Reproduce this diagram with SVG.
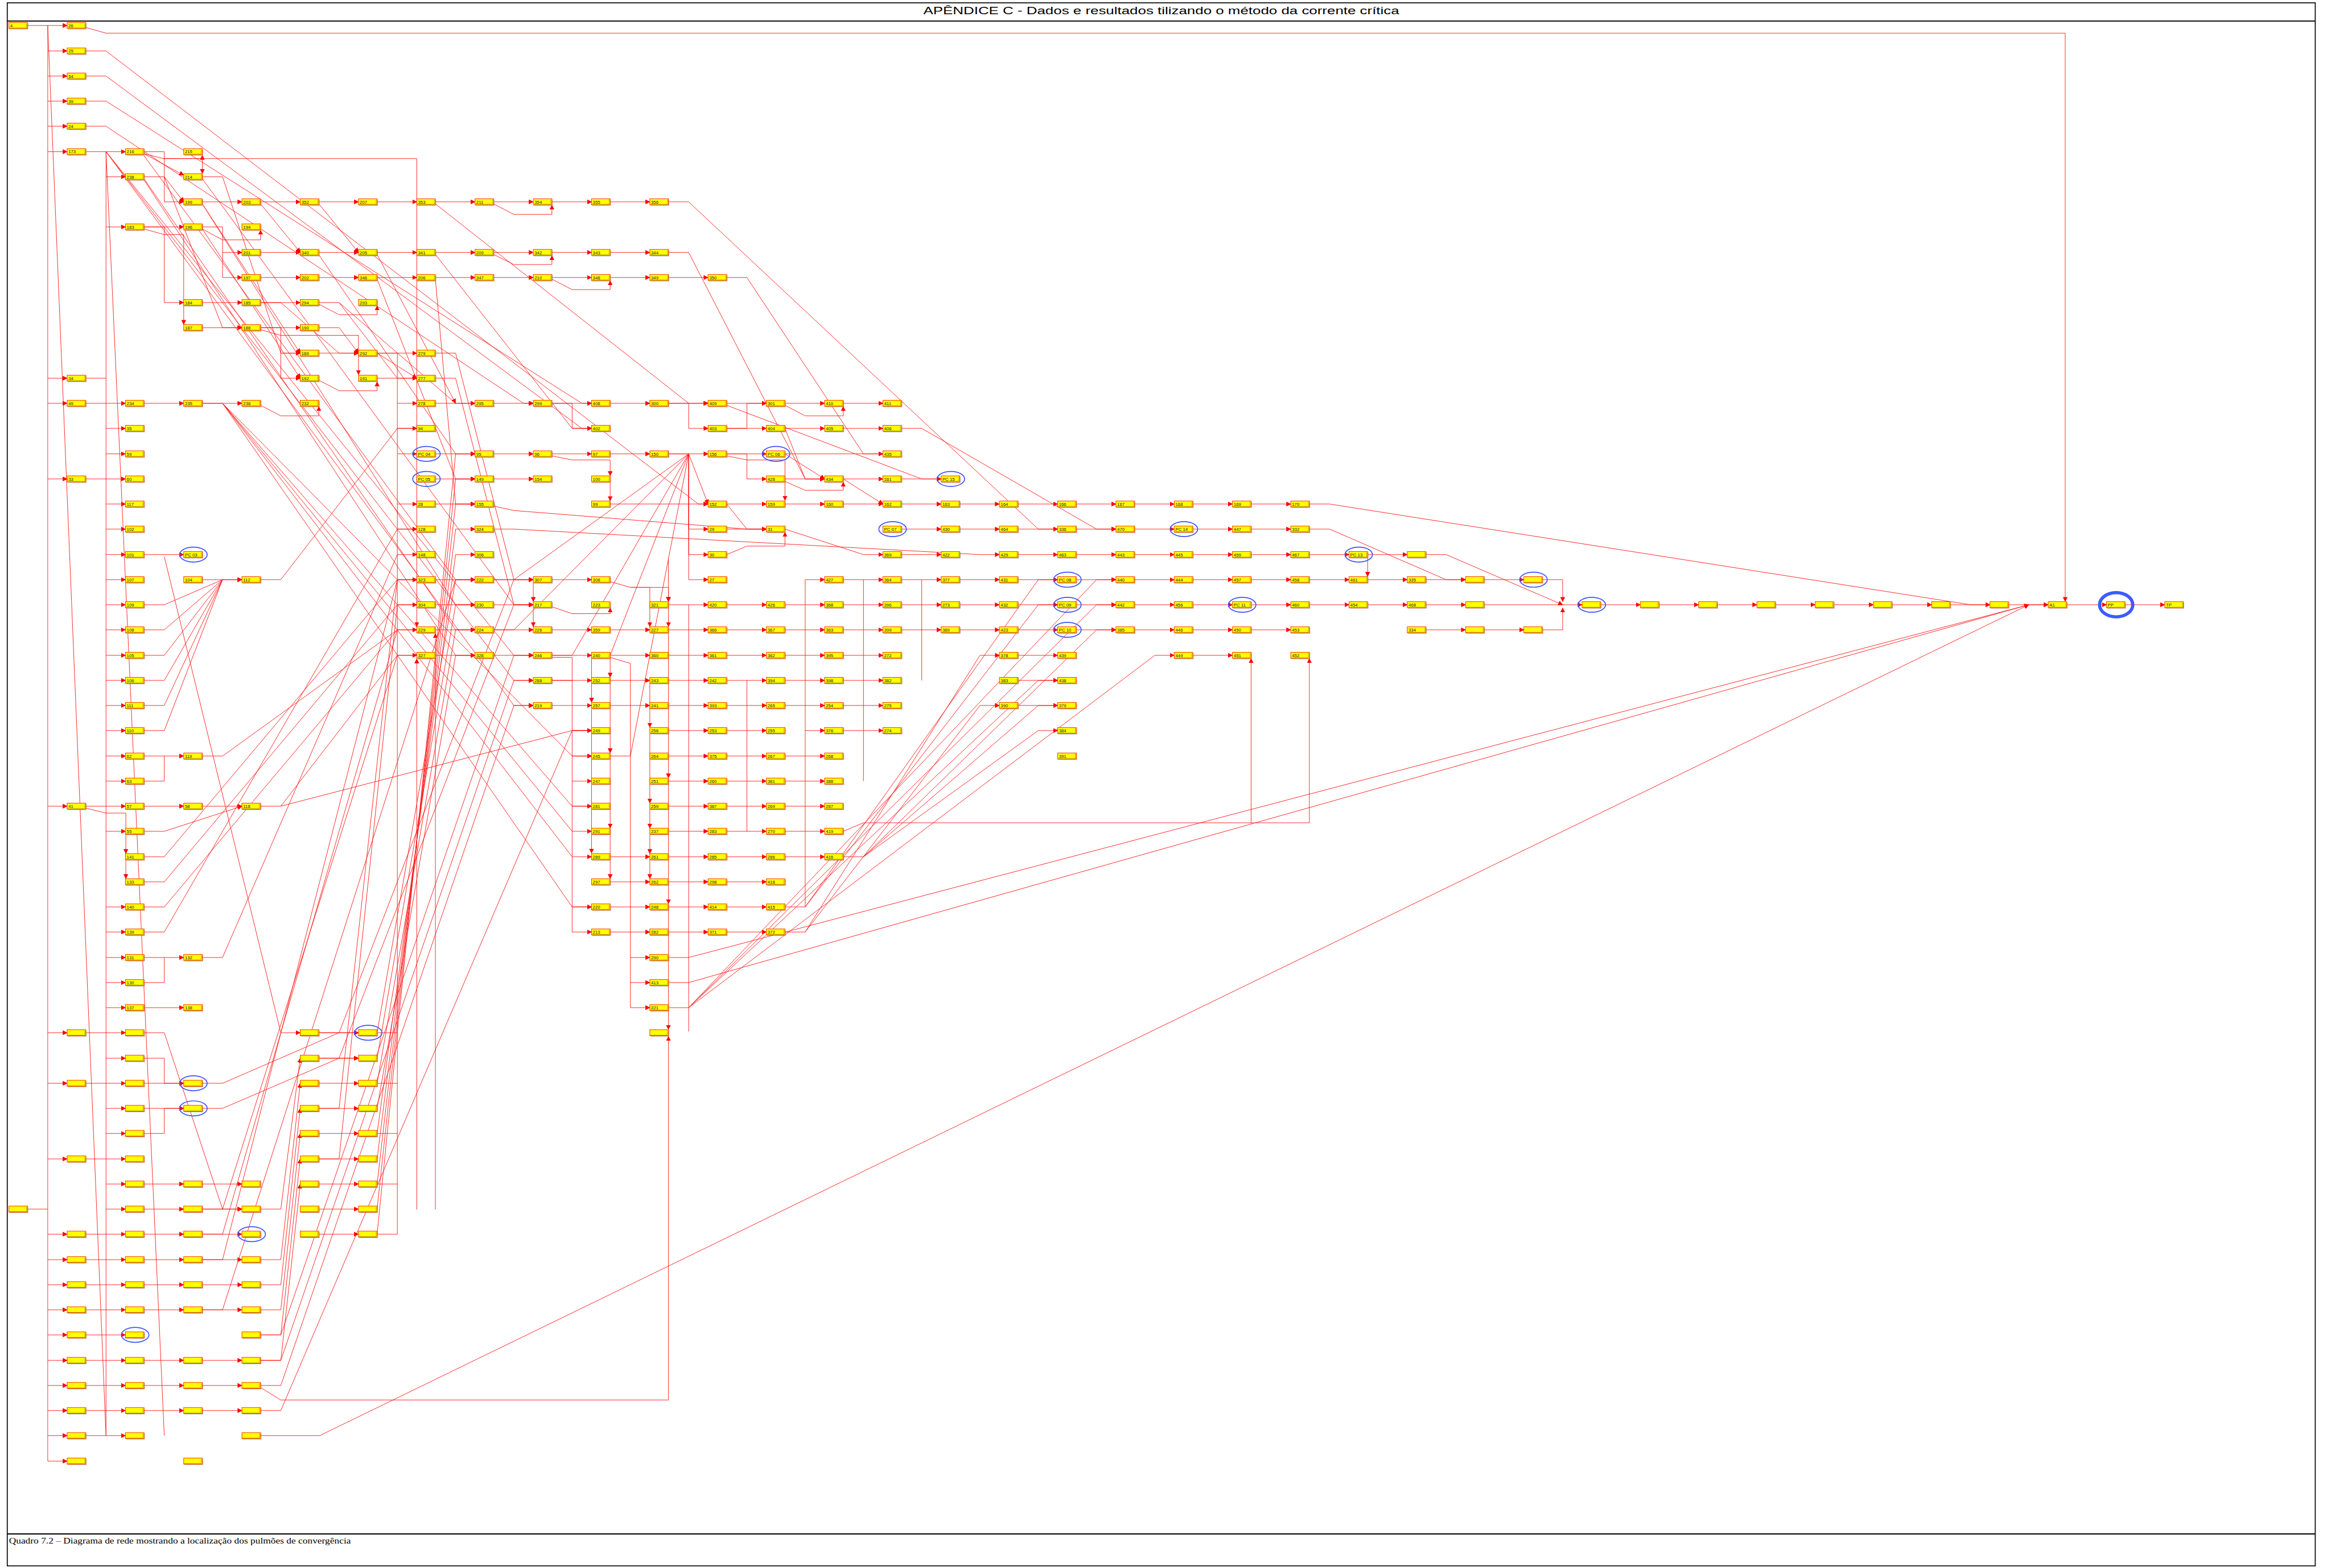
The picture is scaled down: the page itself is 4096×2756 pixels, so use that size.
<svg xmlns="http://www.w3.org/2000/svg" xmlns:xlink="http://www.w3.org/1999/xlink" width="4096" height="2756" viewBox="0 0 4096 2756">
<style>
.e path{fill:none;stroke:#ff1a1a;stroke-width:1.3;marker-end:url(#a)}
.e path.n{marker-end:none}
.nd text{font-family:"Liberation Sans",Arial,sans-serif;font-size:11px;fill:#222}
.pc{fill:none;stroke:#3a55ff;stroke-width:2.4}
</style>
<defs>
<marker id="a" viewBox="0 0 12 12" refX="11" refY="6" markerWidth="12" markerHeight="12" markerUnits="userSpaceOnUse" orient="auto"><path d="M0,0L12,6L0,12z" fill="#ff0000"/></marker>
<g id="b"><rect x="2" y="-5.5" width="46" height="15" fill="#a89878" opacity="0.7"/><rect x="0" y="-7.5" width="46" height="15" fill="#ffff00" stroke="#ff4400" stroke-width="1.5"/><path d="M43.5,-6V6H1" fill="none" stroke="#8c8a00" stroke-width="1"/></g>
</defs>
<rect width="4096" height="2756" fill="#fff"/>
<g transform="scale(0.711)">
<g id="frame" fill="none" stroke="#111">
<rect x="18" y="7" width="5704" height="3864" stroke-width="2.5"/>
<path d="M18,52H5722M18,3792H5722" stroke-width="3"/>
</g>
<text x="2870" y="35" text-anchor="middle" font-family="Liberation Sans,Arial,sans-serif" font-size="25" textLength="1176" lengthAdjust="spacingAndGlyphs" fill="#000">APÊNDICE C - Dados e resultados tilizando o método da corrente crítica</text>
<text x="22" y="3816" font-family="Liberation Serif,Times New Roman,serif" font-size="20" textLength="845" lengthAdjust="spacingAndGlyphs" fill="#000">Quadro 7.2 – Diagrama de rede mostrando a localização dos pulmões de convergência</text>
<g id="connectors" class="e">
<path class="n" d="M68,63H118V3612M68,2989H118"/>
<path class="n" d="M118,63L262,3549M262,375L406,3549"/>
<path d="M118,63H166"/><path d="M118,126H166"/><path d="M118,188H166"/><path d="M118,250H166"/><path d="M118,312H166"/><path d="M118,375H166"/><path d="M118,935H166"/><path d="M118,997H166"/><path d="M118,1184H166"/><path d="M118,1993H166"/>
<path d="M118,2553H166"/><path d="M118,2678H166"/><path d="M118,2865H166"/><path d="M118,3051H166"/><path d="M118,3114H166"/><path d="M118,3176H166"/><path d="M118,3238H166"/><path d="M118,3300H166"/><path d="M118,3363H166"/><path d="M118,3425H166"/><path d="M118,3487H166"/><path d="M118,3549H166"/><path d="M118,3612H166"/>
<path class="n" d="M212,375H262V3549"/>
<path class="n" d="M212,935H262M212,997H262M212,1184H262M212,1993H262M212,2553H262M212,2678H262M212,2865H262M212,3051H262M212,3114H262M212,3176H262M212,3238H262M212,3300H262M212,3363H262M212,3425H262M212,3487H262M212,3549H262"/>
<path d="M262,375H310"/><path d="M262,437H310"/><path d="M262,561H310"/><path d="M262,997H310"/><path d="M262,1059H310"/><path d="M262,1122H310"/><path d="M262,1184H310"/><path d="M262,1246H310"/><path d="M262,1308H310"/><path d="M262,1371H310"/><path d="M262,1433H310"/><path d="M262,1495H310"/><path d="M262,1557H310"/><path d="M262,1620H310"/><path d="M262,1682H310"/><path d="M262,1744H310"/><path d="M262,1806H310"/><path d="M262,1869H310"/><path d="M262,1931H310"/><path d="M262,1993H310"/><path d="M262,2055H310"/><path d="M262,2242H310"/><path d="M262,2304H310"/><path d="M262,2367H310"/><path d="M262,2429H310"/><path d="M262,2491H310"/>
<path d="M262,2553H310"/><path d="M262,2616H310"/><path d="M262,2678H310"/><path d="M262,2740H310"/><path d="M262,2802H310"/><path d="M262,2865H310"/><path d="M262,2927H310"/><path d="M262,2989H310"/><path d="M262,3051H310"/><path d="M262,3114H310"/><path d="M262,3176H310"/><path d="M262,3238H310"/><path d="M262,3300H310"/><path d="M262,3363H310"/><path d="M262,3425H310"/><path d="M262,3487H310"/><path d="M262,3549H310"/>
<path d="M500,499H598"/><path d="M644,499H742"/><path d="M788,499H886"/><path d="M932,499H1030"/><path d="M1076,499H1174"/><path d="M1220,499H1318"/><path d="M1364,499H1462"/><path d="M1508,499H1606"/>
<path d="M356,561H454"/>
<path d="M644,624H742"/><path d="M788,624H886"/><path d="M932,624H1030"/><path d="M1076,624H1174"/><path d="M1220,624H1318"/><path d="M1364,624H1462"/><path d="M1508,624H1606"/>
<path d="M644,686H742"/><path d="M788,686H886"/><path d="M932,686H1030"/><path d="M1076,686H1174"/><path d="M1220,686H1318"/><path d="M1364,686H1462"/><path d="M1508,686H1606"/><path d="M1652,686H1750"/>
<path d="M500,748H598"/><path d="M644,748H742"/>
<path d="M500,810H598"/><path d="M644,810H742"/>
<path d="M788,873H886"/><path d="M932,873H1030"/>
<path d="M932,935H1030"/>
<path d="M356,997H454"/><path d="M500,997H598"/><path d="M1076,997H1174"/><path d="M1220,997H1318"/><path d="M1364,997H1462"/><path d="M1508,997H1606"/><path d="M1652,997H1750"/><path d="M1796,997H1894"/><path d="M1940,997H2038"/><path d="M2084,997H2182"/>
<path d="M1796,1059H1894"/><path d="M1940,1059H2038"/><path d="M2084,1059H2182"/>
<path d="M1076,1122H1174"/><path d="M1220,1122H1318"/><path d="M1364,1122H1462"/><path d="M1508,1122H1606"/><path d="M1652,1122H1750"/><path d="M1796,1122H1894"/><path d="M1940,1122H2182"/>
<path d="M1076,1184H1174"/><path d="M1220,1184H1318"/><path d="M1940,1184H2038"/><path d="M2084,1184H2182"/><path d="M2228,1184H2326"/>
<path d="M1076,1246H1174"/><path d="M1796,1246H1894"/><path d="M1940,1246H2038"/><path d="M2084,1246H2182"/><path d="M2228,1246H2326"/><path d="M2372,1246H2470"/><path d="M2516,1246H2614"/><path d="M2660,1246H2758"/><path d="M2804,1246H2902"/><path d="M2948,1246H3046"/><path d="M3092,1246H3190"/>
<path d="M1796,1308H1894"/><path d="M2228,1308H2326"/><path d="M2372,1308H2470"/><path d="M2516,1308H2614"/><path d="M2660,1308H2758"/><path d="M2804,1308H2902"/><path d="M2948,1308H3046"/><path d="M3092,1308H3190"/>
<path d="M356,1371H454"/><path d="M2228,1371H2326"/><path d="M2516,1371H2614"/><path d="M2660,1371H2758"/><path d="M2804,1371H2902"/><path d="M2948,1371H3046"/><path d="M3092,1371H3190"/><path d="M3236,1371H3334"/><path d="M3380,1371H3478"/>
<path d="M500,1433H598"/><path d="M1076,1433H1174"/><path d="M1220,1433H1318"/><path d="M1364,1433H1462"/><path d="M2084,1433H2182"/><path d="M2228,1433H2326"/><path d="M2372,1433H2470"/><path d="M2516,1433H2614"/><path d="M2660,1433H2758"/><path d="M2804,1433H2902"/><path d="M2948,1433H3046"/><path d="M3092,1433H3190"/><path d="M3236,1433H3334"/><path d="M3380,1433H3478"/><path d="M3524,1433H3622"/><path d="M3668,1433H3766"/>
<path d="M1076,1495H1174"/><path d="M1220,1495H1318"/><path d="M1652,1495H1750"/><path d="M1796,1495H1894"/><path d="M1940,1495H2038"/><path d="M2084,1495H2182"/><path d="M2228,1495H2326"/><path d="M2372,1495H2470"/><path d="M2516,1495H2614"/><path d="M2660,1495H2758"/><path d="M2804,1495H2902"/><path d="M2948,1495H3046"/><path d="M3092,1495H3190"/><path d="M3236,1495H3334"/><path d="M3380,1495H3478"/><path d="M3524,1495H3622"/><path d="M3668,1495H3910"/><path d="M3956,1495H4054"/><path d="M4100,1495H4198"/><path d="M4244,1495H4342"/><path d="M4388,1495H4486"/><path d="M4532,1495H4630"/><path d="M4676,1495H4774"/><path d="M4820,1495H4918"/><path d="M4964,1495H5062"/><path d="M5108,1495H5206"/><path d="M5252,1495H5350"/>
<path d="M1076,1557H1174"/><path d="M1220,1557H1318"/><path d="M1364,1557H1462"/><path d="M1508,1557H1606"/><path d="M1652,1557H1750"/><path d="M1796,1557H1894"/><path d="M1940,1557H2038"/><path d="M2084,1557H2182"/><path d="M2228,1557H2326"/><path d="M2372,1557H2470"/><path d="M2516,1557H2614"/><path d="M2660,1557H2758"/><path d="M2804,1557H2902"/><path d="M2948,1557H3046"/><path d="M3092,1557H3190"/><path d="M3524,1557H3622"/><path d="M3668,1557H3766"/>
<path d="M1076,1620H1174"/><path d="M1220,1620H1318"/><path d="M1364,1620H1462"/><path d="M1508,1620H1606"/><path d="M1652,1620H1750"/><path d="M1796,1620H1894"/><path d="M1940,1620H2038"/><path d="M2084,1620H2182"/><path d="M2516,1620H2614"/><path d="M2948,1620H3046"/>
<path d="M1364,1682H1462"/><path d="M1508,1682H1606"/><path d="M1652,1682H1750"/><path d="M1796,1682H1894"/><path d="M1940,1682H2038"/><path d="M2084,1682H2182"/><path d="M2516,1682H2614"/>
<path d="M1364,1744H1462"/><path d="M1508,1744H1606"/><path d="M1652,1744H1750"/><path d="M1796,1744H1894"/><path d="M1940,1744H2038"/><path d="M2084,1744H2182"/><path d="M2516,1744H2614"/>
<path d="M1652,1806H1750"/><path d="M1796,1806H1894"/><path d="M2084,1806H2182"/>
<path d="M356,1869H454"/><path d="M1652,1869H1750"/><path d="M1796,1869H1894"/><path d="M1940,1869H2038"/>
<path d="M1652,1931H1750"/><path d="M1796,1931H1894"/><path d="M1940,1931H2038"/>
<path d="M356,1993H454"/><path d="M500,1993H598"/><path d="M1652,1993H1750"/><path d="M1796,1993H1894"/><path d="M1940,1993H2038"/>
<path d="M1652,2055H1750"/><path d="M1796,2055H1894"/><path d="M1940,2055H2038"/>
<path d="M1508,2118H1606"/><path d="M1652,2118H1750"/><path d="M1796,2118H1894"/><path d="M1940,2118H2038"/>
<path d="M1508,2180H1606"/><path d="M1652,2180H1750"/><path d="M1796,2180H1894"/>
<path d="M1508,2242H1606"/><path d="M1652,2242H1750"/><path d="M1796,2242H1894"/>
<path d="M1508,2304H1606"/><path d="M1652,2304H1750"/><path d="M1796,2304H1894"/>
<path d="M356,2367H454"/><path d="M356,2491H454"/>
<path d="M356,2678H454"/><path d="M356,2740H454"/><path d="M356,2927H454"/><path d="M356,2989H454"/><path d="M356,3051H454"/><path d="M356,3114H454"/><path d="M356,3176H454"/><path d="M356,3238H454"/><path d="M356,3363H454"/><path d="M356,3425H454"/><path d="M356,3487H454"/>
<path d="M500,2927H598"/><path d="M500,2989H598"/><path d="M500,3051H598"/><path d="M500,3114H598"/><path d="M500,3176H598"/><path d="M500,3238H598"/><path d="M500,3363H598"/><path d="M500,3425H598"/><path d="M500,3487H598"/>
<path d="M788,2553H886"/><path d="M788,2616H886"/><path d="M788,2678H886"/><path d="M788,2740H886"/><path d="M788,2802H886"/><path d="M788,2865H886"/><path d="M788,2927H886"/><path d="M788,2989H886"/><path d="M788,3051H886"/>
<path d="M212,68L262,82H5104V1487"/>
<path d="M212,126H262L1726,1246H1750"/><path d="M212,188H262L1438,1059H1462"/><path d="M212,250H262L1438,997H1462"/><path d="M212,312H262L1294,997H1318"/>
<path d="M356,380L404,392H500V384"/><path d="M500,384V429"/><path d="M404,392H1030V1549"/>
<path d="M356,375H406V499H454"/><path d="M356,380L454,433"/><path d="M356,437H406L454,499"/><path d="M406,437L550,810H598"/>
<path d="M356,561H406V748H454"/><path d="M356,566L406,580H454V802"/><path d="M500,566L550,593H644V569"/><path d="M500,561H550V624H598"/><path d="M550,624V686H598"/>
<path d="M500,437H550L694,873H742"/><path d="M644,748H694L838,873H886"/><path d="M788,752L838,778H932V756"/><path d="M788,748H838L1126,997H1174"/><path d="M838,748L982,935H1030"/><path d="M788,810H838L886,873"/>
<path d="M644,815L694,829H886V926"/><path d="M644,810H694V873H742"/><path d="M694,873V935H742"/><path d="M788,940L838,966H932V944"/><path d="M932,873H982V997H1030"/><path d="M932,873L1030,935"/>
<path d="M644,1002L694,1028H788V1005"/>
<path d="M500,997H550L1414,1993H1462"/><path d="M550,997L1414,2055H1462"/><path d="M550,997L1414,2118H1462"/><path d="M550,997L1414,1869H1462"/><path d="M550,997L1414,2242H1462"/>
<path d="M262,375L1270,1620H1318"/><path d="M262,375L1270,1682H1318"/><path d="M262,375L1270,1744H1318"/>
<path d="M356,385L1126,1433H1174"/><path d="M356,442L1126,1557H1174"/><path d="M356,445L1126,1620H1174"/><path d="M500,442L1270,1495H1318"/><path d="M500,504L1126,1495H1174"/>
<path d="M500,504L742,873"/><path d="M500,566L742,935"/><path d="M644,504L742,624"/><path d="M788,504L886,624"/><path d="M788,630L1126,1122H1174"/><path d="M932,690L1126,1184H1174"/><path d="M1076,690L1126,1246H1174"/><path d="M1076,629L1414,1059H1462"/><path d="M1076,504L1702,997H1750"/><path d="M932,629L1126,997"/>
<path d="M1076,873H1126L1270,1433H1318"/><path d="M1076,935H1126L1270,1495H1318"/>
<path d="M1220,504L1270,530H1364V507"/><path d="M1220,629L1270,654H1364V632"/><path d="M1364,690L1414,716H1508V694"/>
<path d="M1652,499H1702L2566,1308H2614"/><path d="M1652,624H1702L1990,1184H2038"/><path d="M1796,686H1846L2134,1122H2182"/>
<path d="M1364,997H1414V1059H1462"/><path d="M1652,997H1702V1059H1750"/><path d="M1796,1059H1846V997H1894"/><path d="M1940,1002L1990,1028H2084V1005"/>
<path d="M1796,1002L2278,1184H2326"/><path d="M1940,1059L1990,1184H2038"/><path d="M2228,1059H2278L2710,1308H2758"/>
<path d="M1652,1122H1702V1308H1750"/><path d="M1702,1122V1371H1750"/><path d="M1702,1122V1433H1750"/>
<path class="n" d="M1220,1433H1270L1702,1122M1220,1557H1270L1702,1122M1364,1620H1414L1702,1122M1508,1869H1558L1702,1122M1508,1620L1702,1122"/>
<path d="M1702,1122L1750,1246"/>
<path d="M1796,1122H1846V1184H1894"/><path d="M1796,1127L1846,1137H1940V1237"/><path d="M1940,1122L2038,1184"/><path d="M1940,1190L1990,1212H2084V1192"/><path d="M2084,1184L2182,1246"/>
<path d="M1796,1246L1846,1308H1894"/><path d="M1508,1246H1750"/><path d="M1364,1127L1414,1137H1508V1176"/><path d="M1508,1192V1238"/>
<path d="M1220,1251L1270,1262L1846,1308H1894"/><path d="M1220,1308H1270L2422,1371H2470"/><path d="M1796,1371L1846,1350H1940V1316"/><path d="M1940,1308L2134,1371H2182"/>
<path d="M3380,1380V1425"/>
<path d="M356,1495H406L550,1433H598"/>
<path class="n" d="M356,1557H406L550,1433M356,1620H406L550,1433M356,1682H406L550,1433M356,1744H406L550,1433M356,1806H406L550,1433M356,1931H406V1869"/>
<path d="M644,1433H694L982,1059H1030"/><path d="M500,1869H550L982,1557H1030"/>
<path d="M212,1998L262,2010H311V2110"/><path d="M311,2118V2172"/>
<path d="M356,2055H406L598,1993"/><path d="M644,1993H694L982,1620H1030"/><path d="M694,1993L1414,1806H1462"/>
<path d="M356,2118H406L982,1433H1030"/><path d="M356,2180H406L982,1495H1030"/><path class="n" d="M356,2242H406L982,1557"/><path d="M356,2304H406L982,1308H1030"/>
<path class="n" d="M356,2429H406V2367"/><path d="M500,2367H550L982,1371H1030"/>
<path d="M406,1376L694,2553H742"/>
<path class="n" d="M982,997V3051"/>
<path d="M982,1059H1030"/><path d="M982,1122H1030"/><path d="M982,1246H1030"/><path d="M982,1308H1030"/>
<path d="M1030,2990V1629"/><path d="M1076,2990V1566"/>
<path d="M1318,1441V1487"/><path d="M1318,1503V1549"/><path d="M1508,1438L1558,1452H1652V1487"/><path d="M1558,1452H1606V1549"/><path d="M1364,1500L1414,1517H1508V1503"/>
<path class="n" d="M1364,1625L1414,1625V2304M1364,1682H1414"/>
<path d="M1414,1806H1462"/><path d="M1414,1869H1462"/><path d="M1414,1931H1462"/><path d="M1414,1993H1462"/><path d="M1414,2242H1462"/><path d="M1414,2304H1462"/>
<path d="M1462,1628V1736"/><path d="M1462,1753V2109"/>
<path d="M1508,1628V1674"/><path d="M1508,1690V1861"/><path d="M1508,1877V2047"/><path d="M1508,2063V2172"/>
<path class="n" d="M1508,1625L1558,1640V2491"/>
<path d="M1558,2367H1606"/><path d="M1558,2429H1606"/><path d="M1558,2491H1606"/>
<path d="M1606,1690V1798"/><path d="M1606,1815V1985"/><path d="M1606,2001V2047"/><path d="M1606,2063V2110"/><path d="M1606,2126V2172"/>
<path d="M1652,1380V1487"/><path d="M1652,1503V1549"/><path d="M1652,1566V1923"/><path d="M1652,1939V2234"/><path d="M1652,2250V2545"/>
<path class="n" d="M1702,1495V2550M1846,1682V2055M1990,1433V2242M2134,1433V1931M2278,1433V1682"/>
<path d="M1990,1806H2038"/><path d="M1990,1433H2038"/>
<path d="M2084,2055L2134,2034H3236V1628"/><path d="M3092,2034V1628"/>
<path d="M1652,2491H1702L2710,1433H2758"/><path d="M1702,2491L2710,1495H2758"/><path d="M1702,2491L2854,1620H2902"/><path d="M1702,2491L2566,1682H2614"/>
<path d="M2084,2118H2134L2566,1744H2614"/><path d="M2134,2118L2566,1806H2614"/><path d="M2134,2118L2710,1557H2758"/>
<path d="M1940,2242H1990L2566,1433H2614"/><path d="M1990,2242L2566,1495H2614"/><path d="M1940,2304H1990L2422,1620H2470"/><path d="M1990,2304L2422,1744H2470"/>
<path d="M1652,2367H1702L5014,1495H5062"/><path d="M1652,2429H1702L5014,1495"/><path d="M644,3549H790L5014,1495"/>
<path d="M644,3430L694,3461H1652V2562"/>
<path d="M932,2553L1126,1433H1174"/><path d="M932,2616L1126,1495H1174"/><path d="M932,2678L1126,1557H1174"/><path d="M932,2740L1126,1620H1174"/><path d="M932,2802L1126,1371H1174"/><path d="M932,2865L1126,1308H1174"/><path d="M932,2927L1126,1246H1174"/><path d="M932,2989L1126,1184H1174"/><path d="M932,3051L1126,1122H1174"/>
<path class="n" d="M932,2553H982M932,2678H982M932,2802H982M932,2927H982M932,3051H982"/>
<path d="M788,2553H838L1270,1433H1318"/><path d="M788,2616H838L1270,1495H1318"/><path d="M788,2740H838L982,1433H1030"/><path d="M788,2865H838L982,1495H1030"/>
<path d="M644,2989H694L742,2616"/><path d="M644,3114H694L742,2678"/><path d="M644,3176H694L742,2740"/><path d="M644,3238H694L742,2802"/><path d="M644,3300H694L742,2865"/><path d="M644,3363H694L742,2927"/>
<path d="M644,3300H694L1270,1620H1318"/><path d="M644,3363H694L1270,1682H1318"/><path d="M644,3425H694L1270,1744H1318"/><path d="M644,3487H694L1414,1806H1462"/>
<path d="M500,2989H550L982,1620H1030"/><path d="M500,3051H550L982,1557H1030"/><path d="M500,3114H550L982,1433H1030"/><path d="M500,3238H550L1126,1433H1174"/>
<path d="M356,2553H406L550,2989H598"/><path d="M356,2616H406V2678H454"/><path d="M356,2802H406V2740H454"/>
<path d="M500,2678H550L838,2553H886"/><path d="M500,2740H550L838,2616H886"/>
<path d="M3236,1246H3286L4870,1495H4918"/><path d="M3236,1308H3286L3574,1433H3622"/>
<path d="M3812,1433H3862V1487"/><path d="M3812,1557H3862V1503"/><path d="M3524,1371H3574L3862,1495"/>
</g>
<g id="nodes" class="nd">
<g id="n4" transform="translate(22,63)"><use href="#b"/><text x="3" y="4">4</text></g>
<g id="n26" transform="translate(166,63)"><use href="#b"/><text x="3" y="4">26</text></g>
<g id="n25" transform="translate(166,126)"><use href="#b"/><text x="3" y="4">25</text></g>
<g id="n54" transform="translate(166,188)"><use href="#b"/><text x="3" y="4">54</text></g>
<g id="n39" transform="translate(166,250)"><use href="#b"/><text x="3" y="4">39</text></g>
<g id="n24" transform="translate(166,312)"><use href="#b"/><text x="3" y="4">24</text></g>
<g id="n173" transform="translate(166,375)"><use href="#b"/><text x="3" y="4">173</text></g>
<g id="n216" transform="translate(310,375)"><use href="#b"/><text x="3" y="4">216</text></g>
<g id="n215" transform="translate(454,375)"><use href="#b"/><text x="3" y="4">215</text></g>
<g id="n238" transform="translate(310,437)"><use href="#b"/><text x="3" y="4">238</text></g>
<g id="n214" transform="translate(454,437)"><use href="#b"/><text x="3" y="4">214</text></g>
<g id="n199" transform="translate(454,499)"><use href="#b"/><text x="3" y="4">199</text></g>
<g id="n203" transform="translate(598,499)"><use href="#b"/><text x="3" y="4">203</text></g>
<g id="n352" transform="translate(742,499)"><use href="#b"/><text x="3" y="4">352</text></g>
<g id="n207" transform="translate(886,499)"><use href="#b"/><text x="3" y="4">207</text></g>
<g id="n353" transform="translate(1030,499)"><use href="#b"/><text x="3" y="4">353</text></g>
<g id="n211" transform="translate(1174,499)"><use href="#b"/><text x="3" y="4">211</text></g>
<g id="n354" transform="translate(1318,499)"><use href="#b"/><text x="3" y="4">354</text></g>
<g id="n355" transform="translate(1462,499)"><use href="#b"/><text x="3" y="4">355</text></g>
<g id="n356" transform="translate(1606,499)"><use href="#b"/><text x="3" y="4">356</text></g>
<g id="n183" transform="translate(310,561)"><use href="#b"/><text x="3" y="4">183</text></g>
<g id="n196" transform="translate(454,561)"><use href="#b"/><text x="3" y="4">196</text></g>
<g id="n194" transform="translate(598,561)"><use href="#b"/><text x="3" y="4">194</text></g>
<g id="n201" transform="translate(598,624)"><use href="#b"/><text x="3" y="4">201</text></g>
<g id="n340" transform="translate(742,624)"><use href="#b"/><text x="3" y="4">340</text></g>
<g id="n205" transform="translate(886,624)"><use href="#b"/><text x="3" y="4">205</text></g>
<g id="n341" transform="translate(1030,624)"><use href="#b"/><text x="3" y="4">341</text></g>
<g id="n209" transform="translate(1174,624)"><use href="#b"/><text x="3" y="4">209</text></g>
<g id="n342" transform="translate(1318,624)"><use href="#b"/><text x="3" y="4">342</text></g>
<g id="n343" transform="translate(1462,624)"><use href="#b"/><text x="3" y="4">343</text></g>
<g id="n344" transform="translate(1606,624)"><use href="#b"/><text x="3" y="4">344</text></g>
<g id="n197" transform="translate(598,686)"><use href="#b"/><text x="3" y="4">197</text></g>
<g id="n202" transform="translate(742,686)"><use href="#b"/><text x="3" y="4">202</text></g>
<g id="n346" transform="translate(886,686)"><use href="#b"/><text x="3" y="4">346</text></g>
<g id="n206" transform="translate(1030,686)"><use href="#b"/><text x="3" y="4">206</text></g>
<g id="n347" transform="translate(1174,686)"><use href="#b"/><text x="3" y="4">347</text></g>
<g id="n210" transform="translate(1318,686)"><use href="#b"/><text x="3" y="4">210</text></g>
<g id="n348" transform="translate(1462,686)"><use href="#b"/><text x="3" y="4">348</text></g>
<g id="n349" transform="translate(1606,686)"><use href="#b"/><text x="3" y="4">349</text></g>
<g id="n350" transform="translate(1750,686)"><use href="#b"/><text x="3" y="4">350</text></g>
<g id="n184" transform="translate(454,748)"><use href="#b"/><text x="3" y="4">184</text></g>
<g id="n185" transform="translate(598,748)"><use href="#b"/><text x="3" y="4">185</text></g>
<g id="n294" transform="translate(742,748)"><use href="#b"/><text x="3" y="4">294</text></g>
<g id="n293" transform="translate(886,748)"><use href="#b"/><text x="3" y="4">293</text></g>
<g id="n187" transform="translate(454,810)"><use href="#b"/><text x="3" y="4">187</text></g>
<g id="n188" transform="translate(598,810)"><use href="#b"/><text x="3" y="4">188</text></g>
<g id="n190" transform="translate(742,810)"><use href="#b"/><text x="3" y="4">190</text></g>
<g id="n189" transform="translate(742,873)"><use href="#b"/><text x="3" y="4">189</text></g>
<g id="n292" transform="translate(886,873)"><use href="#b"/><text x="3" y="4">292</text></g>
<g id="n279" transform="translate(1030,873)"><use href="#b"/><text x="3" y="4">279</text></g>
<g id="n34" transform="translate(166,935)"><use href="#b"/><text x="3" y="4">34</text></g>
<g id="n192" transform="translate(742,935)"><use href="#b"/><text x="3" y="4">192</text></g>
<g id="n191" transform="translate(886,935)"><use href="#b"/><text x="3" y="4">191</text></g>
<g id="n277" transform="translate(1030,935)"><use href="#b"/><text x="3" y="4">277</text></g>
<g id="n49" transform="translate(166,997)"><use href="#b"/><text x="3" y="4">49</text></g>
<g id="n234" transform="translate(310,997)"><use href="#b"/><text x="3" y="4">234</text></g>
<g id="n235" transform="translate(454,997)"><use href="#b"/><text x="3" y="4">235</text></g>
<g id="n236" transform="translate(598,997)"><use href="#b"/><text x="3" y="4">236</text></g>
<g id="n232" transform="translate(742,997)"><use href="#b"/><text x="3" y="4">232</text></g>
<g id="n278" transform="translate(1030,997)"><use href="#b"/><text x="3" y="4">278</text></g>
<g id="n295" transform="translate(1174,997)"><use href="#b"/><text x="3" y="4">295</text></g>
<g id="n299" transform="translate(1318,997)"><use href="#b"/><text x="3" y="4">299</text></g>
<g id="n408" transform="translate(1462,997)"><use href="#b"/><text x="3" y="4">408</text></g>
<g id="n300" transform="translate(1606,997)"><use href="#b"/><text x="3" y="4">300</text></g>
<g id="n409" transform="translate(1750,997)"><use href="#b"/><text x="3" y="4">409</text></g>
<g id="n301" transform="translate(1894,997)"><use href="#b"/><text x="3" y="4">301</text></g>
<g id="n410" transform="translate(2038,997)"><use href="#b"/><text x="3" y="4">410</text></g>
<g id="n411" transform="translate(2182,997)"><use href="#b"/><text x="3" y="4">411</text></g>
<g id="n35" transform="translate(310,1059)"><use href="#b"/><text x="3" y="4">35</text></g>
<g id="n94" transform="translate(1030,1059)"><use href="#b"/><text x="3" y="4">94</text></g>
<g id="n402" transform="translate(1462,1059)"><use href="#b"/><text x="3" y="4">402</text></g>
<g id="n403" transform="translate(1750,1059)"><use href="#b"/><text x="3" y="4">403</text></g>
<g id="n404" transform="translate(1894,1059)"><use href="#b"/><text x="3" y="4">404</text></g>
<g id="n405" transform="translate(2038,1059)"><use href="#b"/><text x="3" y="4">405</text></g>
<g id="n406" transform="translate(2182,1059)"><use href="#b"/><text x="3" y="4">406</text></g>
<g id="n59" transform="translate(310,1122)"><use href="#b"/><text x="3" y="4">59</text></g>
<g id="nPC04" transform="translate(1030,1122)"><use href="#b"/><text x="3" y="4">PC 04</text><ellipse class="pc" cx="24" cy="0" rx="34" ry="18.5"/></g>
<g id="n95" transform="translate(1174,1122)"><use href="#b"/><text x="3" y="4">95</text></g>
<g id="n96" transform="translate(1318,1122)"><use href="#b"/><text x="3" y="4">96</text></g>
<g id="n97" transform="translate(1462,1122)"><use href="#b"/><text x="3" y="4">97</text></g>
<g id="n150" transform="translate(1606,1122)"><use href="#b"/><text x="3" y="4">150</text></g>
<g id="n156" transform="translate(1750,1122)"><use href="#b"/><text x="3" y="4">156</text></g>
<g id="nPC06" transform="translate(1894,1122)"><use href="#b"/><text x="3" y="4">PC 06</text><ellipse class="pc" cx="24" cy="0" rx="34" ry="18.5"/></g>
<g id="n435" transform="translate(2182,1122)"><use href="#b"/><text x="3" y="4">435</text></g>
<g id="n33" transform="translate(166,1184)"><use href="#b"/><text x="3" y="4">33</text></g>
<g id="n60" transform="translate(310,1184)"><use href="#b"/><text x="3" y="4">60</text></g>
<g id="nPC05" transform="translate(1030,1184)"><use href="#b"/><text x="3" y="4">PC 05</text><ellipse class="pc" cx="24" cy="0" rx="34" ry="18.5"/></g>
<g id="n149" transform="translate(1174,1184)"><use href="#b"/><text x="3" y="4">149</text></g>
<g id="n154" transform="translate(1318,1184)"><use href="#b"/><text x="3" y="4">154</text></g>
<g id="n100" transform="translate(1462,1184)"><use href="#b"/><text x="3" y="4">100</text></g>
<g id="n428" transform="translate(1894,1184)"><use href="#b"/><text x="3" y="4">428</text></g>
<g id="n434" transform="translate(2038,1184)"><use href="#b"/><text x="3" y="4">434</text></g>
<g id="n161" transform="translate(2182,1184)"><use href="#b"/><text x="3" y="4">161</text></g>
<g id="nPC15" transform="translate(2326,1184)"><use href="#b"/><text x="3" y="4">PC 15</text><ellipse class="pc" cx="24" cy="0" rx="34" ry="18.5"/></g>
<g id="n117" transform="translate(310,1246)"><use href="#b"/><text x="3" y="4">117</text></g>
<g id="n28" transform="translate(1030,1246)"><use href="#b"/><text x="3" y="4">28</text></g>
<g id="n155" transform="translate(1174,1246)"><use href="#b"/><text x="3" y="4">155</text></g>
<g id="n99" transform="translate(1462,1246)"><use href="#b"/><text x="3" y="4">99</text></g>
<g id="n152" transform="translate(1750,1246)"><use href="#b"/><text x="3" y="4">152</text></g>
<g id="n159" transform="translate(1894,1246)"><use href="#b"/><text x="3" y="4">159</text></g>
<g id="n160" transform="translate(2038,1246)"><use href="#b"/><text x="3" y="4">160</text></g>
<g id="n162" transform="translate(2182,1246)"><use href="#b"/><text x="3" y="4">162</text></g>
<g id="n163" transform="translate(2326,1246)"><use href="#b"/><text x="3" y="4">163</text></g>
<g id="n164" transform="translate(2470,1246)"><use href="#b"/><text x="3" y="4">164</text></g>
<g id="n166" transform="translate(2614,1246)"><use href="#b"/><text x="3" y="4">166</text></g>
<g id="n167" transform="translate(2758,1246)"><use href="#b"/><text x="3" y="4">167</text></g>
<g id="n168" transform="translate(2902,1246)"><use href="#b"/><text x="3" y="4">168</text></g>
<g id="n169" transform="translate(3046,1246)"><use href="#b"/><text x="3" y="4">169</text></g>
<g id="n170" transform="translate(3190,1246)"><use href="#b"/><text x="3" y="4">170</text></g>
<g id="n102" transform="translate(310,1308)"><use href="#b"/><text x="3" y="4">102</text></g>
<g id="n128" transform="translate(1030,1308)"><use href="#b"/><text x="3" y="4">128</text></g>
<g id="n324" transform="translate(1174,1308)"><use href="#b"/><text x="3" y="4">324</text></g>
<g id="n29" transform="translate(1750,1308)"><use href="#b"/><text x="3" y="4">29</text></g>
<g id="n31" transform="translate(1894,1308)"><use href="#b"/><text x="3" y="4">31</text></g>
<g id="nPC07" transform="translate(2182,1308)"><use href="#b"/><text x="3" y="4">PC 07</text><ellipse class="pc" cx="24" cy="0" rx="34" ry="18.5"/></g>
<g id="n430" transform="translate(2326,1308)"><use href="#b"/><text x="3" y="4">430</text></g>
<g id="n464" transform="translate(2470,1308)"><use href="#b"/><text x="3" y="4">464</text></g>
<g id="n336" transform="translate(2614,1308)"><use href="#b"/><text x="3" y="4">336</text></g>
<g id="n470" transform="translate(2758,1308)"><use href="#b"/><text x="3" y="4">470</text></g>
<g id="nPC14" transform="translate(2902,1308)"><use href="#b"/><text x="3" y="4">PC 14</text><ellipse class="pc" cx="24" cy="0" rx="34" ry="18.5"/></g>
<g id="n447" transform="translate(3046,1308)"><use href="#b"/><text x="3" y="4">447</text></g>
<g id="n332" transform="translate(3190,1308)"><use href="#b"/><text x="3" y="4">332</text></g>
<g id="n101" transform="translate(310,1371)"><use href="#b"/><text x="3" y="4">101</text></g>
<g id="nPC03" transform="translate(454,1371)"><use href="#b"/><text x="3" y="4">PC 03</text><ellipse class="pc" cx="24" cy="0" rx="34" ry="18.5"/></g>
<g id="n148" transform="translate(1030,1371)"><use href="#b"/><text x="3" y="4">148</text></g>
<g id="n306" transform="translate(1174,1371)"><use href="#b"/><text x="3" y="4">306</text></g>
<g id="n30" transform="translate(1750,1371)"><use href="#b"/><text x="3" y="4">30</text></g>
<g id="n369" transform="translate(2182,1371)"><use href="#b"/><text x="3" y="4">369</text></g>
<g id="n422" transform="translate(2326,1371)"><use href="#b"/><text x="3" y="4">422</text></g>
<g id="n429" transform="translate(2470,1371)"><use href="#b"/><text x="3" y="4">429</text></g>
<g id="n463" transform="translate(2614,1371)"><use href="#b"/><text x="3" y="4">463</text></g>
<g id="n443" transform="translate(2758,1371)"><use href="#b"/><text x="3" y="4">443</text></g>
<g id="n445" transform="translate(2902,1371)"><use href="#b"/><text x="3" y="4">445</text></g>
<g id="n459" transform="translate(3046,1371)"><use href="#b"/><text x="3" y="4">459</text></g>
<g id="n467" transform="translate(3190,1371)"><use href="#b"/><text x="3" y="4">467</text></g>
<g id="nPC13" transform="translate(3334,1371)"><use href="#b"/><text x="3" y="4">PC 13</text><ellipse class="pc" cx="24" cy="0" rx="34" ry="18.5"/></g>
<g id="n_c24r21" transform="translate(3478,1371)"><use href="#b"/></g>
<g id="n107" transform="translate(310,1433)"><use href="#b"/><text x="3" y="4">107</text></g>
<g id="n104" transform="translate(454,1433)"><use href="#b"/><text x="3" y="4">104</text></g>
<g id="n112" transform="translate(598,1433)"><use href="#b"/><text x="3" y="4">112</text></g>
<g id="n323" transform="translate(1030,1433)"><use href="#b"/><text x="3" y="4">323</text></g>
<g id="n222" transform="translate(1174,1433)"><use href="#b"/><text x="3" y="4">222</text></g>
<g id="n307" transform="translate(1318,1433)"><use href="#b"/><text x="3" y="4">307</text></g>
<g id="n308" transform="translate(1462,1433)"><use href="#b"/><text x="3" y="4">308</text></g>
<g id="n27" transform="translate(1750,1433)"><use href="#b"/><text x="3" y="4">27</text></g>
<g id="n427" transform="translate(2038,1433)"><use href="#b"/><text x="3" y="4">427</text></g>
<g id="n364" transform="translate(2182,1433)"><use href="#b"/><text x="3" y="4">364</text></g>
<g id="n377" transform="translate(2326,1433)"><use href="#b"/><text x="3" y="4">377</text></g>
<g id="n431" transform="translate(2470,1433)"><use href="#b"/><text x="3" y="4">431</text></g>
<g id="nPC08" transform="translate(2614,1433)"><use href="#b"/><text x="3" y="4">PC 08</text><ellipse class="pc" cx="24" cy="0" rx="34" ry="18.5"/></g>
<g id="n440" transform="translate(2758,1433)"><use href="#b"/><text x="3" y="4">440</text></g>
<g id="n444" transform="translate(2902,1433)"><use href="#b"/><text x="3" y="4">444</text></g>
<g id="n457" transform="translate(3046,1433)"><use href="#b"/><text x="3" y="4">457</text></g>
<g id="n458" transform="translate(3190,1433)"><use href="#b"/><text x="3" y="4">458</text></g>
<g id="n461" transform="translate(3334,1433)"><use href="#b"/><text x="3" y="4">461</text></g>
<g id="n335" transform="translate(3478,1433)"><use href="#b"/><text x="3" y="4">335</text></g>
<g id="n_c25r22" transform="translate(3622,1433)"><use href="#b"/></g>
<g id="n_c26r22" transform="translate(3766,1433)"><use href="#b"/><ellipse class="pc" cx="24" cy="0" rx="34" ry="18.5"/></g>
<g id="n109" transform="translate(310,1495)"><use href="#b"/><text x="3" y="4">109</text></g>
<g id="n304" transform="translate(1030,1495)"><use href="#b"/><text x="3" y="4">304</text></g>
<g id="n230" transform="translate(1174,1495)"><use href="#b"/><text x="3" y="4">230</text></g>
<g id="n217" transform="translate(1318,1495)"><use href="#b"/><text x="3" y="4">217</text></g>
<g id="n223" transform="translate(1462,1495)"><use href="#b"/><text x="3" y="4">223</text></g>
<g id="n321" transform="translate(1606,1495)"><use href="#b"/><text x="3" y="4">321</text></g>
<g id="n420" transform="translate(1750,1495)"><use href="#b"/><text x="3" y="4">420</text></g>
<g id="n426" transform="translate(1894,1495)"><use href="#b"/><text x="3" y="4">426</text></g>
<g id="n368" transform="translate(2038,1495)"><use href="#b"/><text x="3" y="4">368</text></g>
<g id="n396" transform="translate(2182,1495)"><use href="#b"/><text x="3" y="4">396</text></g>
<g id="n273" transform="translate(2326,1495)"><use href="#b"/><text x="3" y="4">273</text></g>
<g id="n432" transform="translate(2470,1495)"><use href="#b"/><text x="3" y="4">432</text></g>
<g id="nPC09" transform="translate(2614,1495)"><use href="#b"/><text x="3" y="4">PC 09</text><ellipse class="pc" cx="24" cy="0" rx="34" ry="18.5"/></g>
<g id="n442" transform="translate(2758,1495)"><use href="#b"/><text x="3" y="4">442</text></g>
<g id="n456" transform="translate(2902,1495)"><use href="#b"/><text x="3" y="4">456</text></g>
<g id="nPC11" transform="translate(3046,1495)"><use href="#b"/><text x="3" y="4">PC 11</text><ellipse class="pc" cx="24" cy="0" rx="34" ry="18.5"/></g>
<g id="n460" transform="translate(3190,1495)"><use href="#b"/><text x="3" y="4">460</text></g>
<g id="n454" transform="translate(3334,1495)"><use href="#b"/><text x="3" y="4">454</text></g>
<g id="n468" transform="translate(3478,1495)"><use href="#b"/><text x="3" y="4">468</text></g>
<g id="n_c25r23" transform="translate(3622,1495)"><use href="#b"/></g>
<g id="n_c27r23" transform="translate(3910,1495)"><use href="#b"/><ellipse class="pc" cx="24" cy="0" rx="34" ry="18.5"/></g>
<g id="n_c28r23" transform="translate(4054,1495)"><use href="#b"/></g>
<g id="n_c29r23" transform="translate(4198,1495)"><use href="#b"/></g>
<g id="n_c30r23" transform="translate(4342,1495)"><use href="#b"/></g>
<g id="n_c31r23" transform="translate(4486,1495)"><use href="#b"/></g>
<g id="n_c32r23" transform="translate(4630,1495)"><use href="#b"/></g>
<g id="n_c33r23" transform="translate(4774,1495)"><use href="#b"/></g>
<g id="n_c34r23" transform="translate(4918,1495)"><use href="#b"/></g>
<g id="nA1" transform="translate(5062,1495)"><use href="#b"/><text x="3" y="4">A1</text></g>
<g id="nPP" transform="translate(5206,1495)"><use href="#b"/><text x="3" y="4">PP</text><ellipse cx="24" cy="0" rx="41" ry="30" fill="none" stroke="#3a5cff" stroke-width="8"/></g>
<g id="nTP" transform="translate(5350,1495)"><use href="#b"/><text x="3" y="4">TP</text></g>
<g id="n108" transform="translate(310,1557)"><use href="#b"/><text x="3" y="4">108</text></g>
<g id="n229" transform="translate(1030,1557)"><use href="#b"/><text x="3" y="4">229</text></g>
<g id="n224" transform="translate(1174,1557)"><use href="#b"/><text x="3" y="4">224</text></g>
<g id="n226" transform="translate(1318,1557)"><use href="#b"/><text x="3" y="4">226</text></g>
<g id="n359" transform="translate(1462,1557)"><use href="#b"/><text x="3" y="4">359</text></g>
<g id="n227" transform="translate(1606,1557)"><use href="#b"/><text x="3" y="4">227</text></g>
<g id="n366" transform="translate(1750,1557)"><use href="#b"/><text x="3" y="4">366</text></g>
<g id="n367" transform="translate(1894,1557)"><use href="#b"/><text x="3" y="4">367</text></g>
<g id="n363" transform="translate(2038,1557)"><use href="#b"/><text x="3" y="4">363</text></g>
<g id="n399" transform="translate(2182,1557)"><use href="#b"/><text x="3" y="4">399</text></g>
<g id="n389" transform="translate(2326,1557)"><use href="#b"/><text x="3" y="4">389</text></g>
<g id="n423" transform="translate(2470,1557)"><use href="#b"/><text x="3" y="4">423</text></g>
<g id="nPC10" transform="translate(2614,1557)"><use href="#b"/><text x="3" y="4">PC 10</text><ellipse class="pc" cx="24" cy="0" rx="34" ry="18.5"/></g>
<g id="n385" transform="translate(2758,1557)"><use href="#b"/><text x="3" y="4">385</text></g>
<g id="n446" transform="translate(2902,1557)"><use href="#b"/><text x="3" y="4">446</text></g>
<g id="n450" transform="translate(3046,1557)"><use href="#b"/><text x="3" y="4">450</text></g>
<g id="n453" transform="translate(3190,1557)"><use href="#b"/><text x="3" y="4">453</text></g>
<g id="n334" transform="translate(3478,1557)"><use href="#b"/><text x="3" y="4">334</text></g>
<g id="n_c25r24" transform="translate(3622,1557)"><use href="#b"/></g>
<g id="n_c26r24" transform="translate(3766,1557)"><use href="#b"/></g>
<g id="n105" transform="translate(310,1620)"><use href="#b"/><text x="3" y="4">105</text></g>
<g id="n327" transform="translate(1030,1620)"><use href="#b"/><text x="3" y="4">327</text></g>
<g id="n328" transform="translate(1174,1620)"><use href="#b"/><text x="3" y="4">328</text></g>
<g id="n246" transform="translate(1318,1620)"><use href="#b"/><text x="3" y="4">246</text></g>
<g id="n240" transform="translate(1462,1620)"><use href="#b"/><text x="3" y="4">240</text></g>
<g id="n360" transform="translate(1606,1620)"><use href="#b"/><text x="3" y="4">360</text></g>
<g id="n361" transform="translate(1750,1620)"><use href="#b"/><text x="3" y="4">361</text></g>
<g id="n362" transform="translate(1894,1620)"><use href="#b"/><text x="3" y="4">362</text></g>
<g id="n395" transform="translate(2038,1620)"><use href="#b"/><text x="3" y="4">395</text></g>
<g id="n272" transform="translate(2182,1620)"><use href="#b"/><text x="3" y="4">272</text></g>
<g id="n378" transform="translate(2470,1620)"><use href="#b"/><text x="3" y="4">378</text></g>
<g id="n439" transform="translate(2614,1620)"><use href="#b"/><text x="3" y="4">439</text></g>
<g id="n449" transform="translate(2902,1620)"><use href="#b"/><text x="3" y="4">449</text></g>
<g id="n451" transform="translate(3046,1620)"><use href="#b"/><text x="3" y="4">451</text></g>
<g id="n452" transform="translate(3190,1620)"><use href="#b"/><text x="3" y="4">452</text></g>
<g id="n106" transform="translate(310,1682)"><use href="#b"/><text x="3" y="4">106</text></g>
<g id="n288" transform="translate(1318,1682)"><use href="#b"/><text x="3" y="4">288</text></g>
<g id="n252" transform="translate(1462,1682)"><use href="#b"/><text x="3" y="4">252</text></g>
<g id="n243" transform="translate(1606,1682)"><use href="#b"/><text x="3" y="4">243</text></g>
<g id="n242" transform="translate(1750,1682)"><use href="#b"/><text x="3" y="4">242</text></g>
<g id="n394" transform="translate(1894,1682)"><use href="#b"/><text x="3" y="4">394</text></g>
<g id="n398" transform="translate(2038,1682)"><use href="#b"/><text x="3" y="4">398</text></g>
<g id="n382" transform="translate(2182,1682)"><use href="#b"/><text x="3" y="4">382</text></g>
<g id="n383" transform="translate(2470,1682)"><use href="#b"/><text x="3" y="4">383</text></g>
<g id="n438" transform="translate(2614,1682)"><use href="#b"/><text x="3" y="4">438</text></g>
<g id="n111" transform="translate(310,1744)"><use href="#b"/><text x="3" y="4">111</text></g>
<g id="n219" transform="translate(1318,1744)"><use href="#b"/><text x="3" y="4">219</text></g>
<g id="n257" transform="translate(1462,1744)"><use href="#b"/><text x="3" y="4">257</text></g>
<g id="n241" transform="translate(1606,1744)"><use href="#b"/><text x="3" y="4">241</text></g>
<g id="n393" transform="translate(1750,1744)"><use href="#b"/><text x="3" y="4">393</text></g>
<g id="n265" transform="translate(1894,1744)"><use href="#b"/><text x="3" y="4">265</text></g>
<g id="n254" transform="translate(2038,1744)"><use href="#b"/><text x="3" y="4">254</text></g>
<g id="n275" transform="translate(2182,1744)"><use href="#b"/><text x="3" y="4">275</text></g>
<g id="n390" transform="translate(2470,1744)"><use href="#b"/><text x="3" y="4">390</text></g>
<g id="n379" transform="translate(2614,1744)"><use href="#b"/><text x="3" y="4">379</text></g>
<g id="n110" transform="translate(310,1806)"><use href="#b"/><text x="3" y="4">110</text></g>
<g id="n249" transform="translate(1462,1806)"><use href="#b"/><text x="3" y="4">249</text></g>
<g id="n256" transform="translate(1606,1806)"><use href="#b"/><text x="3" y="4">256</text></g>
<g id="n253" transform="translate(1750,1806)"><use href="#b"/><text x="3" y="4">253</text></g>
<g id="n255" transform="translate(1894,1806)"><use href="#b"/><text x="3" y="4">255</text></g>
<g id="n376" transform="translate(2038,1806)"><use href="#b"/><text x="3" y="4">376</text></g>
<g id="n274" transform="translate(2182,1806)"><use href="#b"/><text x="3" y="4">274</text></g>
<g id="n384" transform="translate(2614,1806)"><use href="#b"/><text x="3" y="4">384</text></g>
<g id="n62" transform="translate(310,1869)"><use href="#b"/><text x="3" y="4">62</text></g>
<g id="n119" transform="translate(454,1869)"><use href="#b"/><text x="3" y="4">119</text></g>
<g id="n245" transform="translate(1462,1869)"><use href="#b"/><text x="3" y="4">245</text></g>
<g id="n264" transform="translate(1606,1869)"><use href="#b"/><text x="3" y="4">264</text></g>
<g id="n375" transform="translate(1750,1869)"><use href="#b"/><text x="3" y="4">375</text></g>
<g id="n267" transform="translate(1894,1869)"><use href="#b"/><text x="3" y="4">267</text></g>
<g id="n268" transform="translate(2038,1869)"><use href="#b"/><text x="3" y="4">268</text></g>
<g id="n391" transform="translate(2614,1869)"><use href="#b"/><text x="3" y="4">391</text></g>
<g id="n63" transform="translate(310,1931)"><use href="#b"/><text x="3" y="4">63</text></g>
<g id="n247" transform="translate(1462,1931)"><use href="#b"/><text x="3" y="4">247</text></g>
<g id="n251" transform="translate(1606,1931)"><use href="#b"/><text x="3" y="4">251</text></g>
<g id="n260" transform="translate(1750,1931)"><use href="#b"/><text x="3" y="4">260</text></g>
<g id="n381" transform="translate(1894,1931)"><use href="#b"/><text x="3" y="4">381</text></g>
<g id="n388" transform="translate(2038,1931)"><use href="#b"/><text x="3" y="4">388</text></g>
<g id="n41" transform="translate(166,1993)"><use href="#b"/><text x="3" y="4">41</text></g>
<g id="n57" transform="translate(310,1993)"><use href="#b"/><text x="3" y="4">57</text></g>
<g id="n58" transform="translate(454,1993)"><use href="#b"/><text x="3" y="4">58</text></g>
<g id="n118" transform="translate(598,1993)"><use href="#b"/><text x="3" y="4">118</text></g>
<g id="n281" transform="translate(1462,1993)"><use href="#b"/><text x="3" y="4">281</text></g>
<g id="n259" transform="translate(1606,1993)"><use href="#b"/><text x="3" y="4">259</text></g>
<g id="n387" transform="translate(1750,1993)"><use href="#b"/><text x="3" y="4">387</text></g>
<g id="n269" transform="translate(1894,1993)"><use href="#b"/><text x="3" y="4">269</text></g>
<g id="n287" transform="translate(2038,1993)"><use href="#b"/><text x="3" y="4">287</text></g>
<g id="n55" transform="translate(310,2055)"><use href="#b"/><text x="3" y="4">55</text></g>
<g id="n291" transform="translate(1462,2055)"><use href="#b"/><text x="3" y="4">291</text></g>
<g id="n237" transform="translate(1606,2055)"><use href="#b"/><text x="3" y="4">237</text></g>
<g id="n283" transform="translate(1750,2055)"><use href="#b"/><text x="3" y="4">283</text></g>
<g id="n270" transform="translate(1894,2055)"><use href="#b"/><text x="3" y="4">270</text></g>
<g id="n419" transform="translate(2038,2055)"><use href="#b"/><text x="3" y="4">419</text></g>
<g id="n141" transform="translate(310,2118)"><use href="#b"/><text x="3" y="4">141</text></g>
<g id="n289" transform="translate(1462,2118)"><use href="#b"/><text x="3" y="4">289</text></g>
<g id="n261" transform="translate(1606,2118)"><use href="#b"/><text x="3" y="4">261</text></g>
<g id="n285" transform="translate(1750,2118)"><use href="#b"/><text x="3" y="4">285</text></g>
<g id="n286" transform="translate(1894,2118)"><use href="#b"/><text x="3" y="4">286</text></g>
<g id="n416" transform="translate(2038,2118)"><use href="#b"/><text x="3" y="4">416</text></g>
<g id="n133" transform="translate(310,2180)"><use href="#b"/><text x="3" y="4">133</text></g>
<g id="n297" transform="translate(1462,2180)"><use href="#b"/><text x="3" y="4">297</text></g>
<g id="n262" transform="translate(1606,2180)"><use href="#b"/><text x="3" y="4">262</text></g>
<g id="n298" transform="translate(1750,2180)"><use href="#b"/><text x="3" y="4">298</text></g>
<g id="n418" transform="translate(1894,2180)"><use href="#b"/><text x="3" y="4">418</text></g>
<g id="n140" transform="translate(310,2242)"><use href="#b"/><text x="3" y="4">140</text></g>
<g id="n220" transform="translate(1462,2242)"><use href="#b"/><text x="3" y="4">220</text></g>
<g id="n248" transform="translate(1606,2242)"><use href="#b"/><text x="3" y="4">248</text></g>
<g id="n414" transform="translate(1750,2242)"><use href="#b"/><text x="3" y="4">414</text></g>
<g id="n415" transform="translate(1894,2242)"><use href="#b"/><text x="3" y="4">415</text></g>
<g id="n139" transform="translate(310,2304)"><use href="#b"/><text x="3" y="4">139</text></g>
<g id="n213" transform="translate(1462,2304)"><use href="#b"/><text x="3" y="4">213</text></g>
<g id="n282" transform="translate(1606,2304)"><use href="#b"/><text x="3" y="4">282</text></g>
<g id="n371" transform="translate(1750,2304)"><use href="#b"/><text x="3" y="4">371</text></g>
<g id="n372" transform="translate(1894,2304)"><use href="#b"/><text x="3" y="4">372</text></g>
<g id="n131" transform="translate(310,2367)"><use href="#b"/><text x="3" y="4">131</text></g>
<g id="n132" transform="translate(454,2367)"><use href="#b"/><text x="3" y="4">132</text></g>
<g id="n290" transform="translate(1606,2367)"><use href="#b"/><text x="3" y="4">290</text></g>
<g id="n130" transform="translate(310,2429)"><use href="#b"/><text x="3" y="4">130</text></g>
<g id="n413" transform="translate(1606,2429)"><use href="#b"/><text x="3" y="4">413</text></g>
<g id="n137" transform="translate(310,2491)"><use href="#b"/><text x="3" y="4">137</text></g>
<g id="n138" transform="translate(454,2491)"><use href="#b"/><text x="3" y="4">138</text></g>
<g id="n221" transform="translate(1606,2491)"><use href="#b"/><text x="3" y="4">221</text></g>
<g id="n_c1r40" transform="translate(166,2553)"><use href="#b"/></g>
<g id="n_c2r40" transform="translate(310,2553)"><use href="#b"/></g>
<g id="n_c5r40" transform="translate(742,2553)"><use href="#b"/></g>
<g id="n_c6r40" transform="translate(886,2553)"><use href="#b"/><ellipse class="pc" cx="24" cy="0" rx="34" ry="18.5"/></g>
<g id="n_c11r40" transform="translate(1606,2553)"><use href="#b"/></g>
<g id="n_c2r41" transform="translate(310,2616)"><use href="#b"/></g>
<g id="n_c5r41" transform="translate(742,2616)"><use href="#b"/></g>
<g id="n_c6r41" transform="translate(886,2616)"><use href="#b"/></g>
<g id="n_c1r42" transform="translate(166,2678)"><use href="#b"/></g>
<g id="n_c2r42" transform="translate(310,2678)"><use href="#b"/></g>
<g id="n_c3r42" transform="translate(454,2678)"><use href="#b"/><ellipse class="pc" cx="24" cy="0" rx="34" ry="18.5"/></g>
<g id="n_c5r42" transform="translate(742,2678)"><use href="#b"/></g>
<g id="n_c6r42" transform="translate(886,2678)"><use href="#b"/></g>
<g id="n_c2r43" transform="translate(310,2740)"><use href="#b"/></g>
<g id="n_c3r43" transform="translate(454,2740)"><use href="#b"/><ellipse class="pc" cx="24" cy="0" rx="34" ry="18.5"/></g>
<g id="n_c5r43" transform="translate(742,2740)"><use href="#b"/></g>
<g id="n_c6r43" transform="translate(886,2740)"><use href="#b"/></g>
<g id="n_c2r44" transform="translate(310,2802)"><use href="#b"/></g>
<g id="n_c5r44" transform="translate(742,2802)"><use href="#b"/></g>
<g id="n_c6r44" transform="translate(886,2802)"><use href="#b"/></g>
<g id="n_c1r45" transform="translate(166,2865)"><use href="#b"/></g>
<g id="n_c2r45" transform="translate(310,2865)"><use href="#b"/></g>
<g id="n_c5r45" transform="translate(742,2865)"><use href="#b"/></g>
<g id="n_c6r45" transform="translate(886,2865)"><use href="#b"/></g>
<g id="n_c2r46" transform="translate(310,2927)"><use href="#b"/></g>
<g id="n_c3r46" transform="translate(454,2927)"><use href="#b"/></g>
<g id="n_c4r46" transform="translate(598,2927)"><use href="#b"/></g>
<g id="n_c5r46" transform="translate(742,2927)"><use href="#b"/></g>
<g id="n_c6r46" transform="translate(886,2927)"><use href="#b"/></g>
<g id="n_c0r47" transform="translate(22,2989)"><use href="#b"/></g>
<g id="n_c2r47" transform="translate(310,2989)"><use href="#b"/></g>
<g id="n_c3r47" transform="translate(454,2989)"><use href="#b"/></g>
<g id="n_c4r47" transform="translate(598,2989)"><use href="#b"/></g>
<g id="n_c5r47" transform="translate(742,2989)"><use href="#b"/></g>
<g id="n_c6r47" transform="translate(886,2989)"><use href="#b"/></g>
<g id="n_c1r48" transform="translate(166,3051)"><use href="#b"/></g>
<g id="n_c2r48" transform="translate(310,3051)"><use href="#b"/></g>
<g id="n_c3r48" transform="translate(454,3051)"><use href="#b"/></g>
<g id="n_c4r48" transform="translate(598,3051)"><use href="#b"/><ellipse class="pc" cx="24" cy="0" rx="34" ry="18.5"/></g>
<g id="n_c5r48" transform="translate(742,3051)"><use href="#b"/></g>
<g id="n_c6r48" transform="translate(886,3051)"><use href="#b"/></g>
<g id="n_c1r49" transform="translate(166,3114)"><use href="#b"/></g>
<g id="n_c2r49" transform="translate(310,3114)"><use href="#b"/></g>
<g id="n_c3r49" transform="translate(454,3114)"><use href="#b"/></g>
<g id="n_c4r49" transform="translate(598,3114)"><use href="#b"/></g>
<g id="n_c1r50" transform="translate(166,3176)"><use href="#b"/></g>
<g id="n_c2r50" transform="translate(310,3176)"><use href="#b"/></g>
<g id="n_c3r50" transform="translate(454,3176)"><use href="#b"/></g>
<g id="n_c4r50" transform="translate(598,3176)"><use href="#b"/></g>
<g id="n_c1r51" transform="translate(166,3238)"><use href="#b"/></g>
<g id="n_c2r51" transform="translate(310,3238)"><use href="#b"/></g>
<g id="n_c3r51" transform="translate(454,3238)"><use href="#b"/></g>
<g id="n_c4r51" transform="translate(598,3238)"><use href="#b"/></g>
<g id="n_c1r52" transform="translate(166,3300)"><use href="#b"/></g>
<g id="n_c2r52" transform="translate(310,3300)"><use href="#b"/><ellipse class="pc" cx="24" cy="0" rx="34" ry="18.5"/></g>
<g id="n_c4r52" transform="translate(598,3300)"><use href="#b"/></g>
<g id="n_c1r53" transform="translate(166,3363)"><use href="#b"/></g>
<g id="n_c2r53" transform="translate(310,3363)"><use href="#b"/></g>
<g id="n_c3r53" transform="translate(454,3363)"><use href="#b"/></g>
<g id="n_c4r53" transform="translate(598,3363)"><use href="#b"/></g>
<g id="n_c1r54" transform="translate(166,3425)"><use href="#b"/></g>
<g id="n_c2r54" transform="translate(310,3425)"><use href="#b"/></g>
<g id="n_c3r54" transform="translate(454,3425)"><use href="#b"/></g>
<g id="n_c4r54" transform="translate(598,3425)"><use href="#b"/></g>
<g id="n_c1r55" transform="translate(166,3487)"><use href="#b"/></g>
<g id="n_c2r55" transform="translate(310,3487)"><use href="#b"/></g>
<g id="n_c3r55" transform="translate(454,3487)"><use href="#b"/></g>
<g id="n_c4r55" transform="translate(598,3487)"><use href="#b"/></g>
<g id="n_c1r56" transform="translate(166,3549)"><use href="#b"/></g>
<g id="n_c2r56" transform="translate(310,3549)"><use href="#b"/></g>
<g id="n_c4r56" transform="translate(598,3549)"><use href="#b"/></g>
<g id="n_c1r57" transform="translate(166,3612)"><use href="#b"/></g>
<g id="n_c3r57" transform="translate(454,3612)"><use href="#b"/></g>
</g>
</g>
</svg>
